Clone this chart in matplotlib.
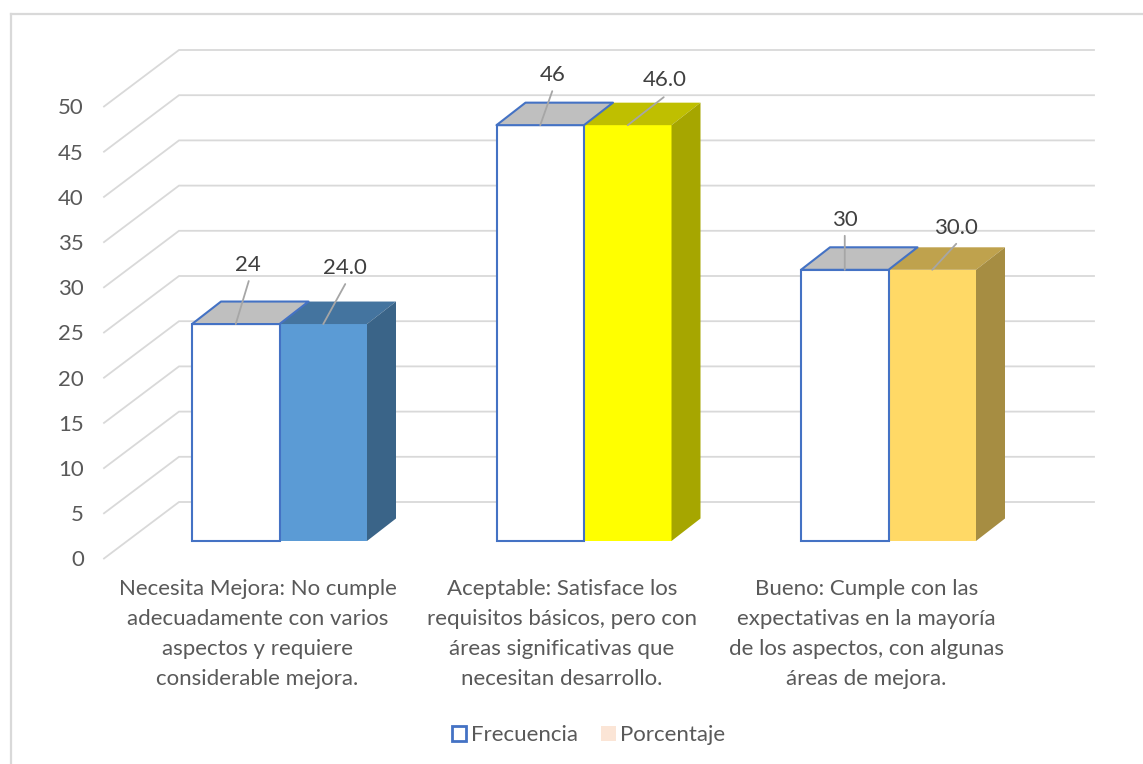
import numpy as np
from matplotlib import pyplot as plt
from matplotlib.patches import Patch, Polygon

plt.rcParams['font.family'] = ['Lato', 'DejaVu Sans']

categories = [
    "Necesita Mejora: No cumple\nadecuadamente con varios\naspectos y requiere\nconsiderable mejora.",
    "Aceptable: Satisface los\nrequisitos básicos, pero con\náreas significativas que\nnecesitan desarrollo.",
    "Bueno: Cumple con las\nexpectativas en la mayoría\nde los aspectos, con algunas\náreas de mejora.",
]
frecuencia = [24, 46, 30]
porcentaje = [24.0, 46.0, 30.0]
y_ticks = [0, 5, 10, 15, 20, 25, 30, 35, 40, 45, 50]

# face, top and side colours of the second bar in each group
face_colors = ["#5B9BD5", "#FFFF00", "#FFD966"]
top_colors = ["#44749F", "#BFBF00", "#BFA24D"]
side_colors = ["#3A6488", "#A6A600", "#A68D42"]

W, H = 1143, 764
GROUP_PX = 304.5   # pixels between groups
UNIT_PX = 9.04     # pixels per value unit
X0_PX, Y0_PX = 279.5, 541  # pixel of group 0, value 0
FS = 16

fig = plt.figure(figsize=(W / 100, H / 100), dpi=100)
ax = fig.add_axes([0, 0, 1, 1])
ax.set_xlim((0 - X0_PX) / GROUP_PX, (W - X0_PX) / GROUP_PX)
ax.set_ylim((Y0_PX - H) / UNIT_PX, Y0_PX / UNIT_PX)
ax.axis("off")


def xpx(p):
    return (p - X0_PX) / GROUP_PX


def ypx(p):
    return (Y0_PX - p) / UNIT_PX


bar_w = 87.5 / GROUP_PX
dx = 29 / GROUP_PX
dy = 22.5 / UNIT_PX
grid_c = "#D9D9D9"

# outer frame, only top and left are visible
ax.plot([xpx(11), xpx(W)], [ypx(14), ypx(14)], color=grid_c, lw=1.6, zorder=1)
ax.plot([xpx(11), xpx(11)], [ypx(14), ypx(H)], color=grid_c, lw=1.6, zorder=1)

# gridlines: slanted floor part, then the back wall
front_y = ypx(558.5)
back_y = ypx(502)
label_y = ypx(560.5)
for v in y_ticks:
    ax.plot([xpx(104), xpx(179), xpx(1094)],
            [front_y + v, back_y + v, back_y + v],
            color=grid_c, lw=1.3, zorder=1, solid_joinstyle="miter")
    ax.text(xpx(84), label_y + v, str(v), ha="right", va="center",
            fontsize=FS, color="#595959")

groups = np.arange(len(categories))

for i in groups:
    f = frecuencia[i]
    p = porcentaje[i]
    # second bar first, so the outline of the first one stays on top
    left = i
    ax.bar(left, p, width=bar_w, align="edge", color=face_colors[i], zorder=3)
    ax.add_patch(Polygon([(left, p), (left + bar_w, p),
                          (left + bar_w + dx, p + dy), (left + dx, p + dy)],
                         closed=True, fc=top_colors[i], ec="none", zorder=3))
    ax.add_patch(Polygon([(left + bar_w, 0), (left + bar_w + dx, dy),
                          (left + bar_w + dx, p + dy), (left + bar_w, p)],
                         closed=True, fc=side_colors[i], ec="none", zorder=3))

    left = i - bar_w
    ax.bar(left, f, width=bar_w, align="edge", color="white",
           edgecolor="#4472C4", linewidth=1.5, zorder=4)
    ax.add_patch(Polygon([(left, f), (left + bar_w, f),
                          (left + bar_w + dx, f + dy), (left + dx, f + dy)],
                         closed=True, fc="#BFBFBF", ec="#4472C4", lw=1.5,
                         joinstyle="round", zorder=4))

    ax.text(i - 22 / GROUP_PX, ypx(634), categories[i], ha="center", va="center",
            fontsize=FS, color="#595959", linespacing=1.62)

# data labels with leader lines, offsets in pixels from the bar's top edge centre
lead_f = [(13, 43), (12, 34), (0, 34)]
text_f = [(12, 59), (12, 50), (0, 50)]
lead_p = [(22, 40), (36, 28), (24, 26)]
text_p = [(22, 56), (37, 45), (24, 42)]

for i in groups:
    for xc, val, txt, lead, off in [
        (i - bar_w / 2, frecuencia[i], str(frecuencia[i]), lead_f[i], text_f[i]),
        (i + bar_w / 2, porcentaje[i], f"{porcentaje[i]:.1f}", lead_p[i], text_p[i]),
    ]:
        ax.annotate("", xy=(xc, val), xytext=lead, textcoords="offset pixels",
                    arrowprops=dict(arrowstyle="-", color="#A6A6A6", lw=1.3,
                                    shrinkA=0, shrinkB=0), zorder=6)
        ax.annotate(txt, xy=(xc, val), xytext=off, textcoords="offset pixels",
                    ha="center", va="center", fontsize=FS, color="#404040", zorder=7)

handles = [Patch(fc="white", ec="#4472C4", lw=2, label="Frecuencia"),
           Patch(fc="#FBE5D6", ec="none", label="Porcentaje")]
leg = ax.legend(handles=handles, loc="center", ncol=2, frameon=False,
                bbox_to_anchor=(588.5 / W, 1 - 735 / H), bbox_transform=fig.transFigure,
                fontsize=FS, handlelength=0.65, handleheight=0.65,
                handletextpad=0.2, columnspacing=1.05, labelcolor="#595959",
                borderpad=0)

fig.savefig("out.png", dpi=100)
